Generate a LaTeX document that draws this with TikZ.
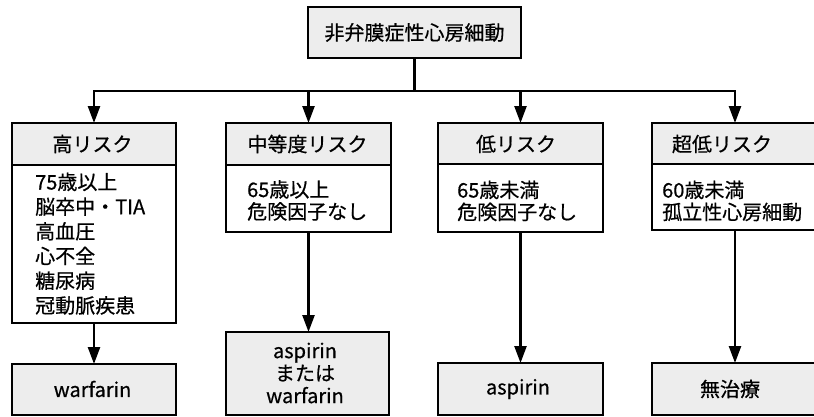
\documentclass[tikz,border=0pt]{standalone}
\usepackage{fontspec}
\setmainfont{Noto Sans CJK JP}[FakeBold=0.6]
\usetikzlibrary{arrows.meta}
\begin{document}
\begin{tikzpicture}[x=1pt,y=-1pt,
  frame/.style={draw=black, line width=1.6pt, inner sep=0pt, outer sep=0pt, anchor=north west},
  hdr/.style={frame, fill=black!7},
  plainbox/.style={frame, fill=white},
  lbl/.style={inner sep=0pt, font=\fontsize{20}{24}\selectfont},
  conn/.style={line width=2.4pt},
  arr/.style={line width=2.4pt, -{Triangle[length=17pt,width=12pt]}},
]
\useasboundingbox (0,0) rectangle (814,416);

% top box
\node[hdr, minimum width=213, minimum height=51, font=\fontsize{20}{24}\selectfont] (top) at (308,7) {非弁膜症性心房細動};

% risk boxes: headers and bodies
\node[hdr, minimum width=164, minimum height=42] (h1) at (12,123) {};
\node[plainbox, minimum width=164, minimum height=158] (b1) at (12,165) {};
\node[hdr, minimum width=165, minimum height=42] (h2) at (226,123) {};
\node[plainbox, minimum width=165, minimum height=67] (b2) at (226,165) {};
\node[hdr, minimum width=165, minimum height=41] (h3) at (438,123) {};
\node[plainbox, minimum width=165, minimum height=68] (b3) at (438,164) {};
\node[hdr, minimum width=166, minimum height=41] (h4) at (652,123) {};
\node[plainbox, minimum width=166, minimum height=66] (b4) at (652,164) {};

% treatment boxes
\node[hdr, minimum width=164, minimum height=51] (r1) at (12,364) {};
\node[hdr, minimum width=163, minimum height=83] (r2) at (226,332) {};
\node[hdr, minimum width=165, minimum height=52] (r3) at (438,363) {};
\node[hdr, minimum width=166, minimum height=52] (r4) at (652,363) {};

% header labels
\node[lbl] (l1) at (92.5,144) {高リスク};
\node[lbl] (l2) at (307.5,144) {中等度リスク};
\node[lbl] (l3) at (516,144) {低リスク};
\node[lbl] (l4) at (722,144) {超低リスク};

% body text
\foreach \t [count=\i] in {75歳以上,脳卒中・TIA,高血圧,心不全,糖尿病,冠動脈疾患}
  \node[lbl, anchor=base west] (t1-\i) at (35,{189.5+24.7*(\i-1)}) {\t};
\foreach \t [count=\i] in {65歳以上,危険因子なし}
  \node[lbl, anchor=base west] (t2-\i) at (247,{197+22*(\i-1)}) {\t};
\foreach \t [count=\i] in {65歳未満,危険因子なし}
  \node[lbl, anchor=base west] (t3-\i) at (457,{197.5+22*(\i-1)}) {\t};
\foreach \t [count=\i] in {60歳未満,孤立性心房細動}
  \node[lbl, anchor=base west] (t4-\i) at (662,{197.5+22*(\i-1)}) {\t};

% treatment labels
\node[lbl] (m1) at (92.5,389) {warfarin};
\node[lbl, align=center, font=\fontsize{20}{22.5}\selectfont] (m2) at (305,373) {aspirin\\または\\warfarin};
\node[lbl] (m3) at (518,389) {aspirin};
\node[lbl] (m4) at (730,389) {無治療};

% connectors
\coordinate (j) at (415,91);
\draw[conn] (top.south) -- (top.south |- j);
\draw[arr] (j) -| (h1.north);
\draw[arr] (j) -| (h2.north);
\draw[arr] (j) -| (h3.north);
\draw[arr] (j) -| (h4.north);
\draw[arr] (b1.south) -- (r1.north);
\draw[arr] (b2.south) -- (b2.south |- r2.north);
\draw[arr] (b3.south) -- (b3.south |- r3.north);
\draw[arr] (b4.south) -- (b4.south |- r4.north);
\end{tikzpicture}
\end{document}
